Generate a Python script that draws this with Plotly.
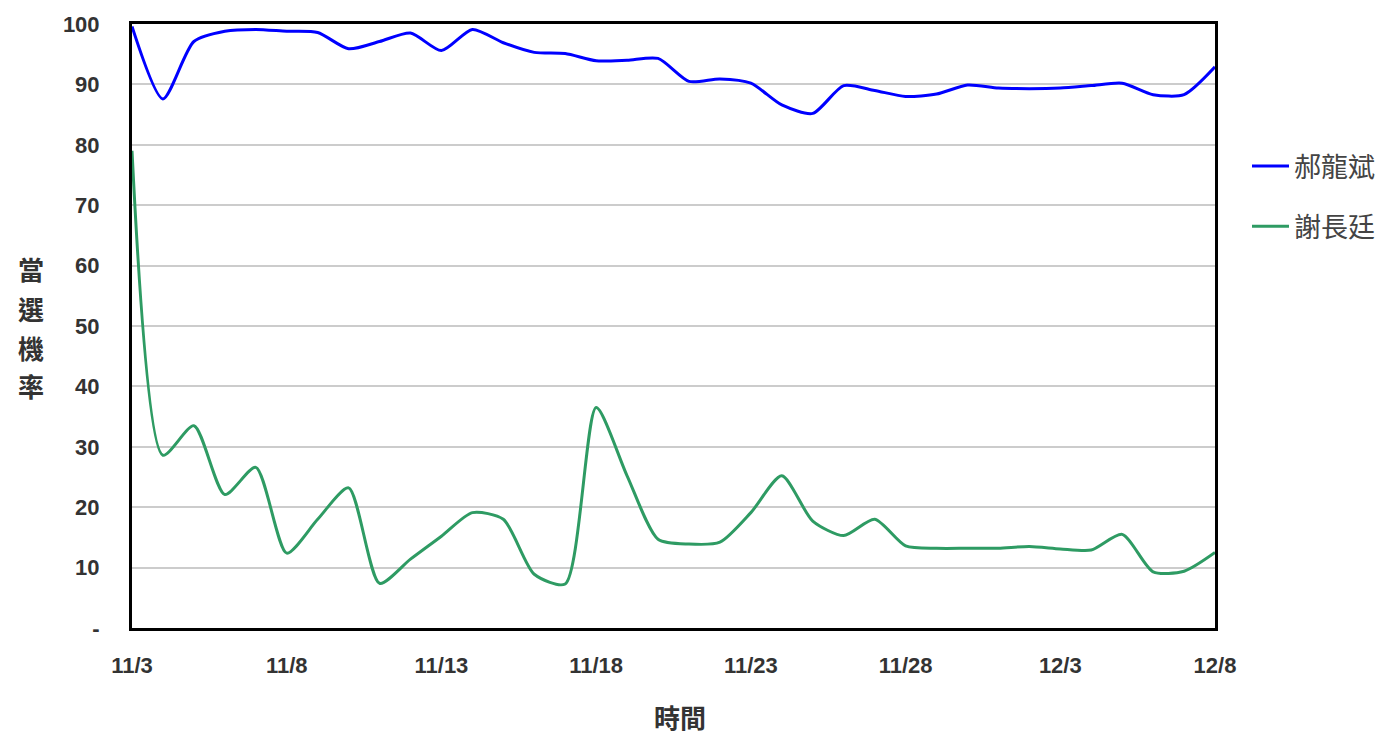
import plotly.graph_objects as go

dates = ["11/3", "11/4", "11/5", "11/6", "11/7", "11/8", "11/9", "11/10", "11/11", "11/12",
         "11/13", "11/14", "11/15", "11/16", "11/17", "11/18", "11/19", "11/20", "11/21", "11/22",
         "11/23", "11/24", "11/25", "11/26", "11/27", "11/28", "11/29", "11/30", "12/1", "12/2",
         "12/3", "12/4", "12/5", "12/6", "12/7", "12/8"]

hao = [99.6, 87.6, 97.1, 98.8, 99.1, 98.8, 98.6, 95.9, 97.1, 98.5,
       95.6, 99.1, 96.9, 95.3, 95.1, 93.9, 94.0, 94.3, 90.5, 90.9,
       90.2, 86.6, 85.2, 89.8, 89.0, 88.0, 88.4, 89.9, 89.4, 89.3,
       89.4, 89.8, 90.2, 88.3, 88.3, 92.9]

hsieh = [79.0, 28.6, 33.5, 22.1, 26.6, 12.4, 18.0, 23.2, 7.4, 11.4,
         15.2, 19.1, 18.0, 8.9, 7.3, 36.5, 25.2, 14.7, 13.9, 14.2,
         19.1, 25.2, 17.7, 15.3, 18.0, 13.6, 13.2, 13.2, 13.2, 13.5,
         13.1, 12.9, 15.5, 9.3, 9.4, 12.5]

xticks = ["11/3", "11/8", "11/13", "11/18", "11/23", "11/28", "12/3", "12/8"]
yticks = [0, 10, 20, 30, 40, 50, 60, 70, 80, 90, 100]
yticktext = ["-"] + [str(v) for v in yticks[1:]]

names = ["郝龍斌", "謝長廷"]
colors = ["#0000ff", "#2e9b63"]

# target screen geometry of the plot area (page body has an 8px margin)
OFF = 8
W, H = 1384, 733
PL, PR, PT, PB = 132, 1215, 24, 628
PW, PH = PR - PL, PB - PT

fig = go.Figure()
for i, (nm, vals) in enumerate(zip(names, [hao, hsieh])):
    fig.add_trace(go.Scatter(
        x=dates, y=vals, mode="lines", name=nm, legendgroup=nm,
        line=dict(color=colors[i], width=3, shape="spline", smoothing=0.7),
    ))

tickfont = dict(family="Liberation Sans, Arial", size=22, color="#333333", weight="bold")
cjk_bold = dict(family="Noto Sans CJK TC", size=26, color="#333333", weight="bold")

fig.update_layout(
    width=W, height=H,
    margin=dict(l=PL - OFF, r=W - (PR - OFF), t=PT - OFF, b=H - (PB - OFF), autoexpand=False),
    paper_bgcolor="white", plot_bgcolor="white",
    showlegend=True,
    legend=dict(x=(1247 - PL) / PW, y=(PB - 142) / PH, xanchor="left", yanchor="top",
                font=dict(family="Noto Sans CJK TC", size=27, color="#444444"),
                tracegroupgap=22, itemwidth=37, bgcolor="rgba(0,0,0,0)"),
    xaxis=dict(type="category", range=[0, 35], tickmode="array", tickvals=xticks,
               ticktext=xticks, tickfont=tickfont, showgrid=False, automargin=False,
               showline=True, linecolor="#000000", linewidth=3, mirror=True,
               ticks="", ticklabelstandoff=16, zeroline=False),
    yaxis=dict(range=[0, 100], tickmode="array", tickvals=yticks, ticktext=yticktext,
               tickfont=tickfont, showgrid=True, gridcolor="#cccccc", gridwidth=1.5,
               automargin=False,
               showline=True, linecolor="#000000", linewidth=3, mirror=True,
               ticks="", ticklabelstandoff=25, zeroline=False),
)

ychars = ["當", "選", "機", "率"]
ypix = [268, 308, 347, 385]
for ch, yp in zip(ychars, ypix):
    fig.add_annotation(text=ch, xref="paper", yref="paper",
                       x=(31 - PL) / PW, y=(PB - yp) / PH,
                       xanchor="center", yanchor="middle", showarrow=False, font=cjk_bold)

fig.add_annotation(text="時間", xref="paper", yref="paper",
                   x=(680 - PL) / PW, y=(PB - 716) / PH,
                   xanchor="center", yanchor="middle", showarrow=False, font=cjk_bold)

fig.write_html("out.html")
